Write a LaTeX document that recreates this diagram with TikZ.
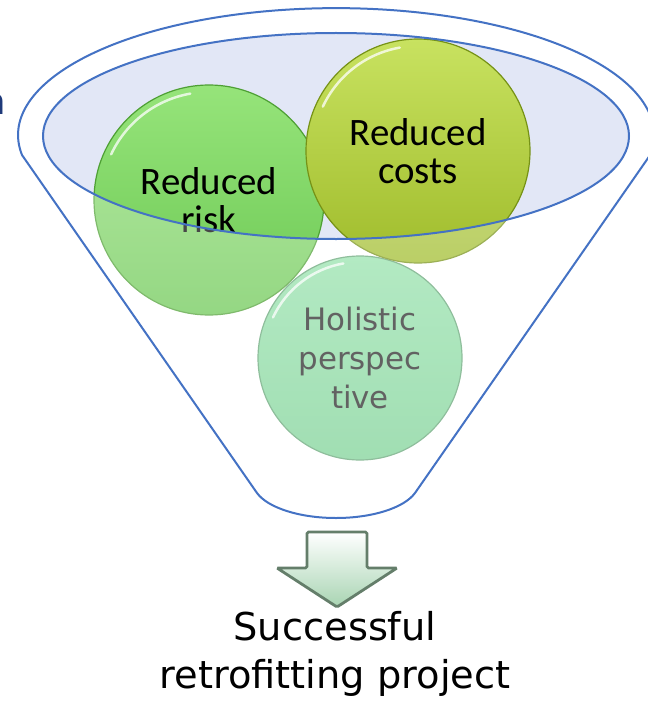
\documentclass[tikz,border=0pt]{standalone}
\usepackage{fontspec}
\setmainfont{Carlito}
\newfontfamily\plainsans{DejaVu Sans}

\definecolor{funnel}{RGB}{68,114,196}
\definecolor{mouth}{RGB}{226,231,246}
\definecolor{riskhi}{RGB}{150,228,122}
\definecolor{risklo}{RGB}{108,200,84}
\definecolor{riskline}{RGB}{78,160,52}
\definecolor{costhi}{RGB}{200,226,96}
\definecolor{costlo}{RGB}{160,188,44}
\definecolor{costline}{RGB}{118,146,22}
\definecolor{wholehi}{RGB}{150,226,172}
\definecolor{wholelo}{RGB}{125,210,150}
\definecolor{wholeline}{RGB}{100,165,118}
\definecolor{arrowlo}{RGB}{168,212,178}
\definecolor{arrowline}{RGB}{100,126,106}
\definecolor{navy}{RGB}{31,58,122}

\begin{document}
\begin{tikzpicture}[x=1bp,y=-1bp,
  ball/.style={circle,draw=#1line,line width=1.2bp,top color=#1hi,bottom color=#1lo,inner sep=0pt},
  balltext/.style={align=center,font=\fontsize{39}{38}\selectfont},
  glint/.style={white,line width=2.5bp,opacity=.75,line cap=round}]
  \useasboundingbox (0,0) rectangle (648,703);

  % opening of the funnel
  \fill[mouth] (336,136) ellipse[x radius=293,y radius=103];

  % the three balls
  \node[ball=risk,minimum size=230bp,balltext] (risk) at (209,200) {Reduced\\risk};
  \node[ball=whole,minimum size=204bp,align=center,text=black!85,font=\plainsans\fontsize{31}{39}\selectfont] (whole) at (360,358) {Holistic\\perspec\\tive};
  \node[ball=cost,minimum size=224bp,balltext] (cost) at (418,151) {Reduced\\costs};
  \draw[glint] (risk.center) ++(205:108) arc[start angle=205,end angle=260,radius=108];
  \draw[glint] (cost.center) ++(205:105) arc[start angle=205,end angle=260,radius=105];
  \draw[glint] (whole.center) ++(205:96) arc[start angle=205,end angle=260,radius=96];

  % funnel body, the glass fades what lies below the opening
  \path[draw=funnel,line width=2bp,fill=white,fill opacity=.28,even odd rule]
    (257,493) -- (22,155) arc[start angle=171,end angle=369,x radius=318,y radius=127]
    -- (415,493) .. controls (404,508) and (372,518) .. (336,518)
    .. controls (300,518) and (268,508) .. (257,493) -- cycle
    (336,136) ellipse[x radius=293,y radius=103];

  % arrow down to the result
  \shade[top color=white,bottom color=arrowlo,draw=arrowline,line width=2.8bp,rounded corners=1.5bp]
    (307,532) -- (367,532) -- (367,568) -- (397,568) -- (337,607) -- (277,568) -- (307,568) -- cycle;
  \node[font=\plainsans\fontsize{38.5}{48}\selectfont,align=center] (result) at (335,654) {Successful\\retrofitting project};

  \node[font=\fontsize{42}{42}\selectfont,text=navy,anchor=base east,inner sep=0pt] (edge) at (6,115) {n};
\end{tikzpicture}
\end{document}
